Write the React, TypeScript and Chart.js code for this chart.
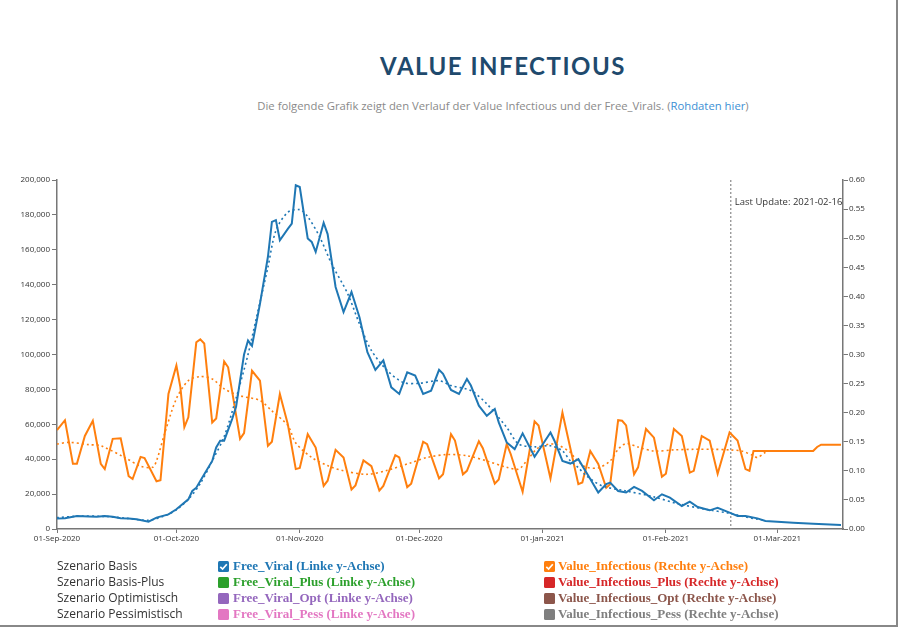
import React, { useEffect, useRef } from "react";
import { Chart, registerables } from "chart.js";
Chart.register(...registerables);

// ---------- DATA ----------
// x values are day offsets from 01-Sep-2020
const xTickDays = [0, 30, 61, 91, 122, 153, 181];
const xTickLabels = ["01-Sep-2020", "01-Oct-2020", "01-Nov-2020", "01-Dec-2020", "01-Jan-2021", "01-Feb-2021", "01-Mar-2021"];
const xMaxDay = 197.5;
const lastUpdateDay = 169.3;
const lastUpdateLabel = "Last Update: 2021-02-16";

const freeViralDays = [0, 2, 5, 8, 10, 12, 14, 16, 18, 20, 23, 25, 28, 30, 33, 34, 35, 37, 39, 40, 41, 42, 44, 45, 46, 47, 48, 49, 51, 53, 54, 55, 56, 58, 59, 60, 61, 63, 64, 65, 67, 68, 70, 72, 74, 76, 78, 80, 82, 84, 86, 88, 90, 92, 94, 96, 97, 99, 101, 103, 104, 106, 108, 110, 111, 113, 115, 117, 120, 124, 125, 127, 129, 131, 134, 136, 138, 139, 141, 143, 145, 147, 150, 152, 154, 157, 159, 161, 164, 166, 169, 171, 173, 176, 178, 185, 190, 197];
const freeViralValues = [6000, 6200, 7500, 7200, 7000, 7500, 7000, 6100, 6000, 5600, 4200, 6500, 8400, 11300, 17000, 21800, 23700, 31400, 39000, 46700, 50600, 50600, 63000, 70000, 85000, 100000, 108000, 105000, 129000, 156000, 176000, 177000, 165500, 172000, 175000, 197000, 196000, 166500, 164500, 158800, 175500, 169000, 138700, 124300, 135800, 121400, 101300, 91200, 96600, 81200, 77400, 89800, 87900, 77400, 79300, 91200, 88900, 79700, 77400, 86000, 82200, 70700, 64900, 68800, 61100, 49600, 45800, 54800, 41400, 55300, 50600, 39000, 37500, 40000, 28600, 20900, 25700, 26600, 21800, 20900, 24100, 21800, 16500, 19900, 18000, 13200, 15700, 12600, 10700, 12200, 9400, 7500, 7500, 6100, 4600, 3600, 3000, 2300];

const freeViralTrendDays = [0, 5, 12, 18, 23, 27, 30, 33, 36, 39, 42, 45, 48, 50, 53, 55, 58, 61, 63, 66, 69, 73, 76, 79, 83, 87, 91, 96, 99, 104, 108, 113, 116, 120, 124, 127, 129, 131, 133, 137, 143, 150, 156, 163, 169, 173, 176, 178];
const freeViralTrendValues = [6500, 7300, 7200, 6000, 5000, 7500, 11000, 17000, 26000, 39000, 53000, 75000, 100000, 120000, 150000, 171000, 181500, 183000, 179000, 167400, 152000, 135000, 117600, 102300, 90800, 84000, 83500, 85000, 82200, 79300, 71700, 58200, 48700, 47100, 47700, 44800, 39000, 35200, 30500, 24700, 21800, 18400, 14500, 11300, 9000, 6900, 5600, 5000];

const infectiousDays = [0, 2, 4, 5, 7, 9, 11, 12, 14, 16, 18, 19, 21, 22, 25, 26, 28, 30, 31, 32, 33, 35, 36, 37, 39, 40, 42, 43, 46, 47, 49, 51, 53, 54, 56, 58, 60, 61, 63, 65, 67, 68, 70, 72, 74, 75, 77, 79, 81, 82, 85, 86, 88, 89, 92, 93, 96, 97, 99, 100, 102, 103, 106, 107, 110, 111, 113, 114, 117, 120, 121, 124, 127, 131, 132, 134, 136, 138, 139, 141, 142, 143, 145, 146, 148, 150, 152, 153, 155, 157, 159, 160, 162, 164, 166, 169, 171, 173, 174, 175, 190, 191, 192, 197];
const infectiousValues = [0.170, 0.187, 0.112, 0.112, 0.160, 0.186, 0.112, 0.103, 0.155, 0.156, 0.091, 0.086, 0.124, 0.122, 0.082, 0.084, 0.232, 0.281, 0.244, 0.175, 0.192, 0.321, 0.326, 0.319, 0.183, 0.190, 0.288, 0.278, 0.155, 0.165, 0.272, 0.255, 0.143, 0.150, 0.232, 0.180, 0.103, 0.105, 0.163, 0.140, 0.074, 0.083, 0.136, 0.123, 0.068, 0.075, 0.118, 0.108, 0.066, 0.074, 0.127, 0.123, 0.072, 0.078, 0.150, 0.146, 0.087, 0.094, 0.163, 0.152, 0.094, 0.100, 0.151, 0.139, 0.078, 0.085, 0.146, 0.129, 0.064, 0.185, 0.178, 0.087, 0.200, 0.077, 0.080, 0.134, 0.112, 0.071, 0.077, 0.187, 0.186, 0.178, 0.094, 0.106, 0.172, 0.157, 0.090, 0.095, 0.172, 0.160, 0.097, 0.100, 0.160, 0.152, 0.095, 0.166, 0.152, 0.103, 0.100, 0.134, 0.134, 0.141, 0.145, 0.145];

const infectiousTrendDays = [0, 3, 8, 11, 17, 21, 24, 25, 27, 30, 33, 36, 39, 42, 46, 51, 54, 58, 60, 64, 68, 72, 78, 83, 89, 93, 98, 103, 108, 113, 116, 118, 121, 125, 129, 130, 132, 133, 136, 139, 141, 143, 146, 150, 155, 160, 165, 169, 172, 175, 176, 178];
const infectiousTrendValues = [0.146, 0.149, 0.145, 0.143, 0.123, 0.108, 0.106, 0.117, 0.163, 0.224, 0.255, 0.262, 0.258, 0.241, 0.229, 0.221, 0.203, 0.178, 0.148, 0.123, 0.109, 0.100, 0.094, 0.101, 0.114, 0.123, 0.128, 0.126, 0.117, 0.106, 0.103, 0.117, 0.140, 0.146, 0.132, 0.123, 0.110, 0.106, 0.105, 0.117, 0.137, 0.147, 0.141, 0.134, 0.136, 0.137, 0.137, 0.136, 0.134, 0.126, 0.123, 0.132];

const scenarioLabels = ["Szenario Basis", "Szenario Basis-Plus", "Szenario Optimistisch", "Szenario Pessimistisch"];
const viralLegendLabels = ["Free_Viral (Linke y-Achse)", "Free_Viral_Plus (Linke y-Achse)", "Free_Viral_Opt (Linke y-Achse)", "Free_Viral_Pess (Linke y-Achse)"];
const infectiousLegendLabels = ["Value_Infectious (Rechte y-Achse)", "Value_Infectious_Plus (Rechte y-Achse)", "Value_Infectious_Opt (Rechte y-Achse)", "Value_Infectious_Pess (Rechte y-Achse)"];
const legendChecked = [true, false, false, false];

// ---------- STYLE ----------
const viralColors = ["#1f77b4", "#2ca02c", "#9467bd", "#e377c2"];
const infectiousColors = ["#ff7f0e", "#d62728", "#8c564b", "#7f7f7f"];
const axisColor = "#777";
const tickFont = { family: "'Open Sans', sans-serif", size: 8 };

const zip = (xs: number[], ys: number[]) => xs.map((x, i) => ({ x, y: ys[i] }));

const lastUpdatePlugin = {
  id: "lastUpdate",
  beforeDatasetsDraw(chart: any) {
    const { ctx, chartArea, scales } = chart;
    const x = scales.x.getPixelForValue(lastUpdateDay);
    ctx.save();
    ctx.strokeStyle = "#888";
    ctx.lineWidth = 1.2;
    ctx.setLineDash([2, 2]);
    ctx.beginPath();
    ctx.moveTo(x, chartArea.top);
    ctx.lineTo(x, chartArea.bottom);
    ctx.stroke();
    ctx.restore();
  },
  afterDatasetsDraw(chart: any) {
    const { ctx, chartArea, scales } = chart;
    const x = scales.x.getPixelForValue(lastUpdateDay);
    ctx.save();
    ctx.beginPath();
    ctx.rect(chartArea.left, chartArea.top, chartArea.right - chartArea.left, chartArea.bottom - chartArea.top);
    ctx.clip();
    ctx.fillStyle = "#333";
    ctx.font = "9.5px 'Open Sans', sans-serif";
    ctx.textBaseline = "middle";
    ctx.fillText(lastUpdateLabel, x + 4, chartArea.top + 22);
    ctx.restore();
  },
};

function ChartCanvas() {
  const ref = useRef<HTMLCanvasElement | null>(null);
  useEffect(() => {
    if (!ref.current) return;
    const chart = new Chart(ref.current, {
      type: "line",
      data: {
        datasets: [
          {
            label: "Free_Viral",
            data: zip(freeViralDays, freeViralValues),
            yAxisID: "yL",
            borderColor: viralColors[0],
            borderWidth: 2,
            pointRadius: 0,
            tension: 0,
            order: 1,
          },
          {
            label: "Free_Viral Trend",
            data: zip(freeViralTrendDays, freeViralTrendValues),
            yAxisID: "yL",
            borderColor: viralColors[0],
            borderWidth: 1.6,
            borderDash: [2, 3],
            pointRadius: 0,
            tension: 0.3,
            order: 2,
          },
          {
            label: "Value_Infectious",
            data: zip(infectiousDays, infectiousValues),
            yAxisID: "yR",
            borderColor: infectiousColors[0],
            borderWidth: 2,
            pointRadius: 0,
            tension: 0,
            order: 3,
          },
          {
            label: "Value_Infectious Trend",
            data: zip(infectiousTrendDays, infectiousTrendValues),
            yAxisID: "yR",
            borderColor: infectiousColors[0],
            borderWidth: 1.6,
            borderDash: [2, 3],
            pointRadius: 0,
            tension: 0.3,
            order: 4,
          },
        ],
      },
      options: {
        animation: false,
        responsive: false,
        maintainAspectRatio: false,
        layout: { padding: { top: 20, left: 0, right: 0, bottom: 0 } },
        plugins: { legend: { display: false }, tooltip: { enabled: false } },
        scales: {
          x: {
            type: "linear",
            min: 0,
            max: xMaxDay,
            afterBuildTicks: (s: any) => {
              s.ticks = xTickDays.map((v) => ({ value: v }));
            },
            afterFit: (s: any) => {
              s.height = 31;
            },
            ticks: {
              autoSkip: false,
              maxRotation: 0,
              padding: 1,
              color: "#333",
              font: tickFont,
              callback: (_v: any, i: number) => xTickLabels[i],
            },
            grid: { drawOnChartArea: false, drawTicks: true, tickLength: 4, color: axisColor },
            border: { display: true, color: axisColor, width: 1.5 },
          },
          yL: {
            type: "linear",
            position: "left",
            min: 0,
            max: 200000,
            afterFit: (s: any) => {
              s.width = 57;
            },
            ticks: {
              stepSize: 20000,
              padding: 2,
              color: "#333",
              font: tickFont,
              callback: (v: any) => Number(v).toLocaleString("en-US"),
            },
            grid: { drawOnChartArea: false, drawTicks: true, tickLength: 5, color: axisColor },
            border: { display: true, color: axisColor, width: 1.5 },
          },
          yR: {
            type: "linear",
            position: "right",
            min: 0,
            max: 0.6,
            afterFit: (s: any) => {
              s.width = 57;
            },
            ticks: {
              stepSize: 0.05,
              padding: 1,
              color: "#333",
              font: tickFont,
              callback: (v: any) => Number(v).toFixed(2),
            },
            grid: { drawOnChartArea: false, drawTicks: true, tickLength: 5, color: axisColor },
            border: { display: true, color: axisColor, width: 1.5 },
          },
        },
      },
      plugins: [lastUpdatePlugin],
    } as any);
    return () => chart.destroy();
  }, []);
  return <canvas ref={ref} width={900} height={400} style={{ position: "absolute", left: 0, top: 160, width: 900, height: 400 }} />;
}

function Box({ color, checked }: { color: string; checked: boolean }) {
  return (
    <svg width={11} height={11} style={{ position: "absolute", left: 0, top: 3 }}>
      <rect x={0} y={0} width={11} height={11} rx={1.5} fill={color} />
      {checked && <path d="M2.3 5.8 L4.6 8 L8.8 3.2" stroke="#fff" strokeWidth={1.7} fill="none" />}
    </svg>
  );
}

export default function App() {
  const rowCenters = [566, 582, 598, 614];
  return (
    <div style={{ position: "absolute", left: 0, top: 0, width: 900, height: 628, background: "#fff", overflow: "hidden" }}>
      <div
        style={{
          position: "absolute",
          left: 203,
          width: 600,
          top: 48,
          textAlign: "center",
          fontFamily: "Lato, sans-serif",
          fontWeight: 700,
          fontSize: 24,
          letterSpacing: 1.5,
          lineHeight: "36px",
          color: "#1f4a6d",
        }}
      >
        VALUE INFECTIOUS
      </div>
      <div
        style={{
          position: "absolute",
          left: 103,
          width: 800,
          top: 98,
          textAlign: "center",
          fontFamily: "'Open Sans', sans-serif",
          fontSize: 11.3,
          lineHeight: "16px",
          color: "#8a8a8a",
        }}
      >
        Die folgende Grafik zeigt den Verlauf der Value Infectious und der Free_Virals. (<span style={{ color: "#3d8fd4" }}>Rohdaten hier</span>)
      </div>
      <ChartCanvas />
      {scenarioLabels.map((lab, i) => (
        <div
          key={"s" + i}
          style={{
            position: "absolute",
            left: 57,
            top: rowCenters[i] - 8,
            height: 16,
            lineHeight: "16px",
            fontFamily: "'Open Sans', sans-serif",
            fontSize: 12,
            color: "#333",
            whiteSpace: "nowrap",
          }}
        >
          {lab}
        </div>
      ))}
      {viralLegendLabels.map((lab, i) => (
        <div
          key={"v" + i}
          style={{
            position: "absolute",
            left: 218,
            top: rowCenters[i] - 8,
            height: 16,
            lineHeight: "16px",
            paddingLeft: 15,
            fontFamily: "'Liberation Serif', 'Times New Roman', serif",
            fontWeight: 700,
            fontSize: 13,
            color: viralColors[i],
            whiteSpace: "nowrap",
          }}
        >
          <Box color={viralColors[i]} checked={legendChecked[i]} />
          {lab}
        </div>
      ))}
      {infectiousLegendLabels.map((lab, i) => (
        <div
          key={"i" + i}
          style={{
            position: "absolute",
            left: 544,
            top: rowCenters[i] - 8,
            height: 16,
            lineHeight: "16px",
            paddingLeft: 14,
            fontFamily: "'Liberation Serif', 'Times New Roman', serif",
            fontWeight: 700,
            fontSize: 13,
            color: infectiousColors[i],
            whiteSpace: "nowrap",
          }}
        >
          <Box color={infectiousColors[i]} checked={legendChecked[i]} />
          {lab}
        </div>
      ))}
      <div style={{ position: "absolute", left: 896, top: 0, width: 2, height: 627, background: "#888" }} />
      <div style={{ position: "absolute", left: 0, top: 625, width: 898, height: 2, background: "#888" }} />
    </div>
  );
}
